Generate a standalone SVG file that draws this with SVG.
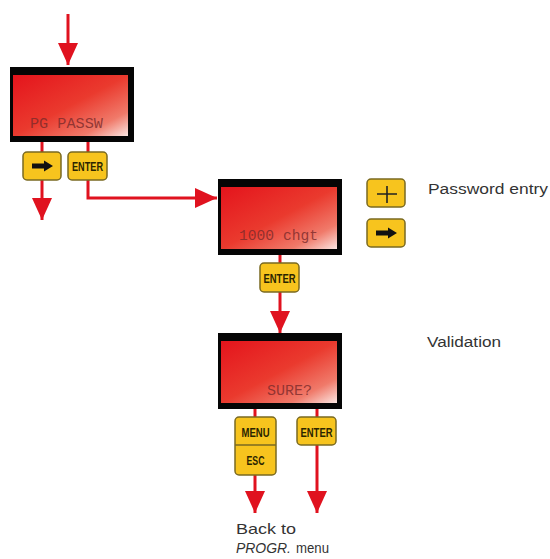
<svg xmlns="http://www.w3.org/2000/svg" width="550" height="559" viewBox="0 0 550 559">
  <defs>
    <linearGradient id="scr" x1="0" y1="0" x2="1" y2="1">
      <stop offset="0" stop-color="#e4141c"/>
      <stop offset="0.5" stop-color="#ea3a2e"/>
      <stop offset="0.8" stop-color="#f07a6a"/>
      <stop offset="1" stop-color="#fbe6e2"/>
    </linearGradient>
    <marker id="ah" markerUnits="userSpaceOnUse" markerWidth="22" markerHeight="20" refX="22" refY="10" orient="auto">
      <path d="M0,0 L22,10 L0,20 Z" fill="#e0121f"/>
    </marker>
    <path id="arrowGlyph" d="M-10,-2.5 H2 V-5.5 L11,0 L2,5.5 V2.5 H-10 Z"/>
  </defs>
  <style>
    .conn { fill: none; stroke: #e0121f; stroke-width: 3; }
    .frame { fill: #050505; }
    .screen { fill: url(#scr); }
    .lcd { font-family: "Liberation Mono", "DejaVu Sans Mono", monospace; font-size: 15px; fill: #7a2a2a; fill-opacity: 0.8; }
    .btn { fill: #f7c41e; stroke: #7a6a22; stroke-width: 1.5; }
    .bt { font-family: "Liberation Sans", Arial, sans-serif; font-weight: bold; font-size: 13px; fill: #2a2400; text-anchor: middle; }
    .glyph { fill: #111; }
    .lbl { font-family: "Liberation Sans", Arial, sans-serif; font-size: 14px; fill: #333; }
    .lbl2 { font-family: "Liberation Sans", Arial, sans-serif; font-size: 15px; fill: #333; }
  </style>

  <g id="connectors">
    <path class="conn" d="M68,14 V65" marker-end="url(#ah)"/>
    <path class="conn" d="M42,142 V220" marker-end="url(#ah)"/>
    <path class="conn" d="M88,142 V198 H217" marker-end="url(#ah)"/>
    <path class="conn" d="M280,255 V333" marker-end="url(#ah)"/>
    <path class="conn" d="M255,409 V513" marker-end="url(#ah)"/>
    <path class="conn" d="M317,409 V513" marker-end="url(#ah)"/>
  </g>

  <g id="screen-pg-passw">
    <rect class="frame" x="10" y="67" width="124" height="75"/>
    <rect class="screen" x="13" y="75" width="115" height="61"/>
    <text class="lcd" x="30" y="128" textLength="73" lengthAdjust="spacingAndGlyphs">PG PASSW</text>
  </g>

  <g id="btn-right-1">
    <rect class="btn" x="23" y="152" width="38" height="28" rx="4"/>
    <use href="#arrowGlyph" class="glyph" transform="translate(42,166)"/>
  </g>
  <g id="btn-enter-1">
    <rect class="btn" x="68" y="152" width="39" height="28" rx="4"/>
    <text class="bt" x="87.5" y="170.5" textLength="31" lengthAdjust="spacingAndGlyphs">ENTER</text>
  </g>

  <g id="screen-1000-chgt">
    <rect class="frame" x="218" y="179" width="124" height="76"/>
    <rect class="screen" x="221" y="187" width="116" height="62"/>
    <text class="lcd" x="239" y="240" textLength="79" lengthAdjust="spacingAndGlyphs">1000 chgt</text>
  </g>

  <g id="btn-enter-2">
    <rect class="btn" x="260" y="263" width="39" height="29" rx="4"/>
    <text class="bt" x="279.5" y="282.5" textLength="32" lengthAdjust="spacingAndGlyphs">ENTER</text>
  </g>

  <g id="btn-plus">
    <rect class="btn" x="367" y="179" width="38" height="28" rx="4"/>
    <path d="M377,194 H397 M387,186 V203" stroke="#222" stroke-width="1.6" fill="none"/>
  </g>
  <g id="btn-right-2">
    <rect class="btn" x="367" y="219" width="38" height="28" rx="4"/>
    <use href="#arrowGlyph" class="glyph" transform="translate(386,233)"/>
  </g>

  <g id="screen-sure">
    <rect class="frame" x="218" y="333" width="124" height="76"/>
    <rect class="screen" x="221" y="341" width="116" height="62"/>
    <text class="lcd" x="267" y="395" textLength="45" lengthAdjust="spacingAndGlyphs">SURE?</text>
  </g>

  <g id="btn-menu-esc">
    <rect class="btn" x="235" y="417" width="41" height="58" rx="4"/>
    <line x1="235" y1="445" x2="276" y2="445" stroke="#7a6a22" stroke-width="1.5"/>
    <text class="bt" x="255.5" y="437" textLength="28" lengthAdjust="spacingAndGlyphs">MENU</text>
    <text class="bt" x="255.5" y="465" textLength="18" lengthAdjust="spacingAndGlyphs">ESC</text>
  </g>
  <g id="btn-enter-3">
    <rect class="btn" x="297" y="417" width="39" height="28" rx="4"/>
    <text class="bt" x="316.5" y="437" textLength="32" lengthAdjust="spacingAndGlyphs">ENTER</text>
  </g>

  <g id="labels">
    <text class="lbl" x="428" y="194" textLength="120" lengthAdjust="spacingAndGlyphs">Password entry</text>
    <text class="lbl" x="427" y="347" textLength="74" lengthAdjust="spacingAndGlyphs">Validation</text>
    <text class="lbl2" x="236" y="534" textLength="60" lengthAdjust="spacingAndGlyphs">Back to</text>
    <text class="lbl2" x="236" y="553" font-style="italic" style="font-style:italic" textLength="55" lengthAdjust="spacingAndGlyphs">PROGR.</text>
    <text class="lbl2" x="296" y="553" textLength="33" lengthAdjust="spacingAndGlyphs">menu</text>
  </g>
</svg>
